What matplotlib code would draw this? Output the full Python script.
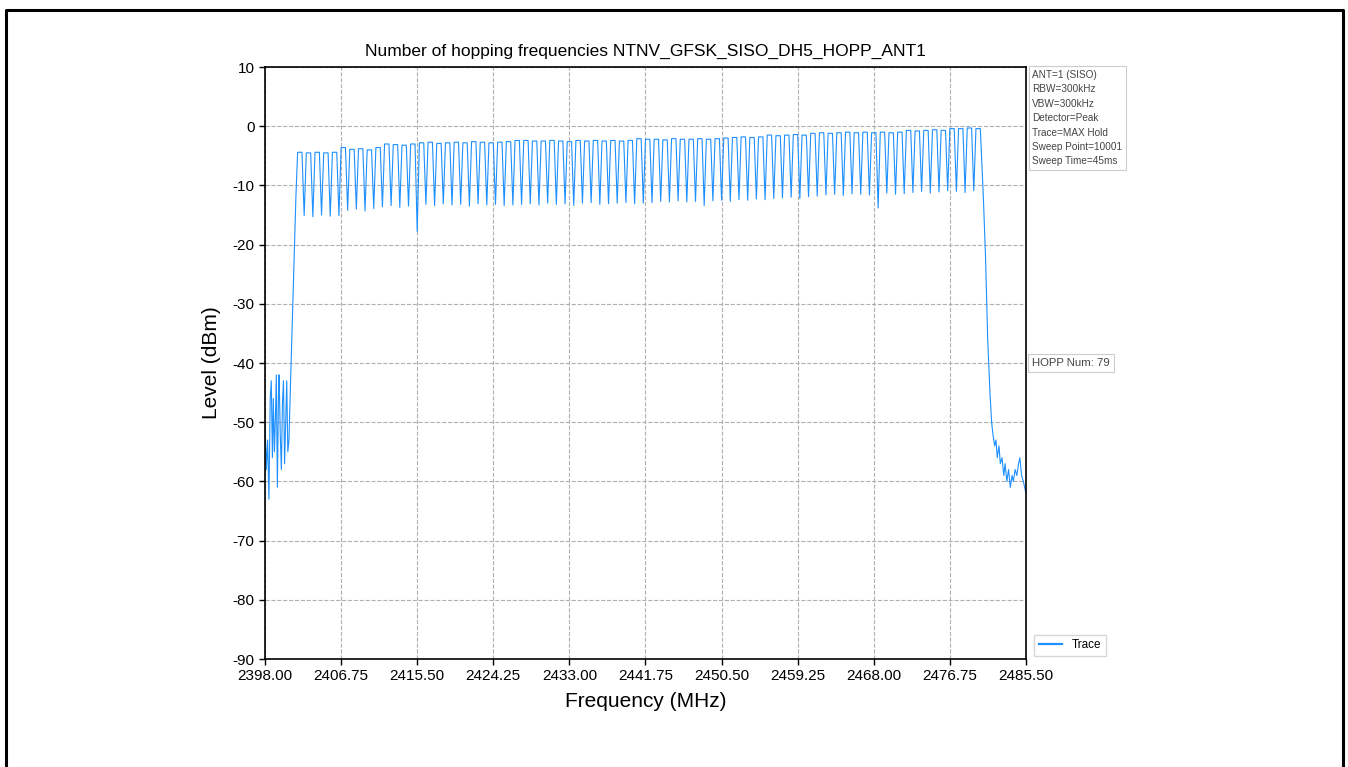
import numpy as np
import matplotlib
matplotlib.use('Agg')
import matplotlib.pyplot as plt
from matplotlib.lines import Line2D

plt.rcParams['font.family'] = ['Liberation Sans', 'DejaVu Sans']
plt.rcParams['axes.unicode_minus'] = False

# 79 hopping channels, 2402 .. 2480 MHz
channels = np.arange(2402, 2481)

# peak level of every channel (dBm)
peaks = [-4.4, -4.5, -4.4, -4.5, -4.4,
         -3.6,
         -3.9, -3.8, -4.0,
         -3.6,
         -3.0, -3.1, -3.2, -3.0,
         -2.8, -2.7, -2.9, -2.8, -2.7, -2.8, -2.6, -2.7, -2.8, -2.7, -2.6,
         -2.4, -2.4, -2.5, -2.5, -2.4, -2.5, -2.6, -2.4, -2.5, -2.4, -2.5, -2.4, -2.5, -2.4,
         -2.1, -2.2, -2.2, -2.3, -2.1, -2.2, -2.2, -2.1, -2.2, -2.1,
         -2.0, -1.9, -1.8, -1.9, -1.8,
         -1.5, -1.6, -1.5, -1.4, -1.5,
         -1.2, -1.1, -1.2, -1.1, -1.0, -1.1, -1.0, -1.1, -1.0, -1.1, -1.0,
         -0.7, -0.8, -0.7, -0.6, -0.7,
         -0.4, -0.4, -0.3, -0.4]

# level of the gap between neighbouring channels (dBm)
dips = [-15.1, -15.3, -15.0, -15.2, -15.1,
        -14.2, -14.0, -14.3, -13.9,
        -13.6, -13.4, -13.7, -13.5,
        -17.8,
        -13.2, -13.4, -13.1, -13.3, -13.2, -13.5, -13.1, -13.3, -13.2, -13.4, -13.3, -13.2, -13.1, -13.3,
        -13.0, -13.2, -13.1, -13.4, -13.0, -12.9, -13.2, -13.1, -13.0, -12.9, -13.1, -13.0,
        -12.9, -12.7, -12.8, -12.6, -12.8, -12.7, -13.4, -12.6, -12.5, -12.7, -12.4, -12.5, -12.3, -12.4, -12.2,
        -12.1, -12.0, -12.2, -11.9, -11.8,
        -11.6, -11.5, -11.7, -11.4, -11.5, -11.6, -13.8, -11.3, -11.5, -11.4,
        -11.2, -11.0, -11.3, -11.1, -10.9, -11.0, -11.2, -10.9]

# noise floor below the band and the rising edge
low_freq = [2398.00, 2398.15, 2398.30, 2398.45, 2398.60, 2398.72, 2398.85, 2398.95,
            2399.08, 2399.20, 2399.30, 2399.42, 2399.55, 2399.62, 2399.75, 2399.88,
            2400.00, 2400.12, 2400.25, 2400.38, 2400.50, 2400.62, 2400.75, 2400.88,
            2401.00, 2401.20, 2401.40, 2401.55]
low_level = [-50, -58, -53, -63, -46, -43, -56, -46,
             -55, -49, -42, -61, -45, -42, -52, -58,
             -47, -43, -57, -50, -43, -55, -53, -46,
             -40, -30, -20, -12]

# falling edge and noise floor above the band
high_freq = [2480.60, 2480.85, 2481.10, 2481.36, 2481.55, 2481.70, 2481.90, 2482.05,
             2482.20, 2482.40, 2482.55, 2482.75, 2482.95, 2483.10, 2483.30, 2483.50,
             2483.70, 2483.90, 2484.05, 2484.25, 2484.45, 2484.65, 2484.80, 2485.00,
             2485.20, 2485.50]
high_level = [-12, -22, -36, -45, -50, -52, -54, -53,
              -56, -54, -57, -56, -59, -57, -60, -58,
              -61, -59, -60, -58, -59, -57, -56, -59,
              -60, -62]

info_text = ('ANT=1 (SISO)\nRBW=300kHz\nVBW=300kHz\nDetector=Peak\n'
             'Trace=MAX Hold\nSweep Point=10001\nSweep Time=45ms')


def build_trace():
    f = list(low_freq)
    lv = list(low_level)
    for k, ch in enumerate(channels):
        f += [ch - 0.25, ch + 0.25]
        lv += [peaks[k], peaks[k]]
        if k < len(dips):
            f.append(ch + 0.5)
            lv.append(dips[k])
    f += high_freq
    lv += high_level
    return np.array(f), np.array(lv)


def main():
    fig = plt.figure(figsize=(13.48, 7.67), dpi=100)
    ax = fig.add_axes([0.1966, 0.1408, 0.5645, 0.7718])

    freq, level = build_trace()
    ax.plot(freq, level, color='#1E90FF', lw=0.8, label='Trace')

    ax.set_xlim(2398, 2485.5)
    ax.set_ylim(-90, 10)
    ax.set_xticks(np.arange(2398, 2485.6, 8.75))
    ax.set_xticklabels(['%.2f' % v for v in np.arange(2398, 2485.6, 8.75)])
    ax.set_yticks(np.arange(-90, 11, 10))
    ax.tick_params(labelsize=11, length=4, width=1)
    ax.grid(True, ls='--', color='#b0b0b0', lw=0.8)
    for s in ax.spines.values():
        s.set_linewidth(1.2)

    ax.set_title('Number of hopping frequencies NTNV_GFSK_SISO_DH5_HOPP_ANT1',
                 fontsize=12.5, pad=8)
    ax.set_xlabel('Frequency (MHz)', fontsize=15, labelpad=6)
    ax.set_ylabel('Level (dBm)', fontsize=15, labelpad=8)

    box = dict(boxstyle='square,pad=0.35', fc='white', ec='#cccccc', lw=0.8)
    ax.text(1.008, 0.995, info_text, transform=ax.transAxes, va='top', ha='left',
            fontsize=7.2, color='#444444', linespacing=1.55, bbox=box)
    ax.text(1.008, 0.5, 'HOPP Num: 79', transform=ax.transAxes, va='center',
            ha='left', fontsize=8.2, color='#444444', bbox=box)

    leg = ax.legend(loc='lower left', bbox_to_anchor=(1.003, -0.005), fontsize=8.5,
                    frameon=True, fancybox=False, edgecolor='#cccccc')
    for h in leg.get_lines():
        h.set_linewidth(1.6)

    # page frame
    fig.add_artist(Line2D([6 / 1348, 6 / 1348, 1343 / 1348, 1343 / 1348],
                          [0, 1 - 10 / 767, 1 - 10 / 767, 0],
                          transform=fig.transFigure, color='black', lw=2.2))

    fig.savefig('out.png', dpi=100)


if __name__ == '__main__':
    main()
